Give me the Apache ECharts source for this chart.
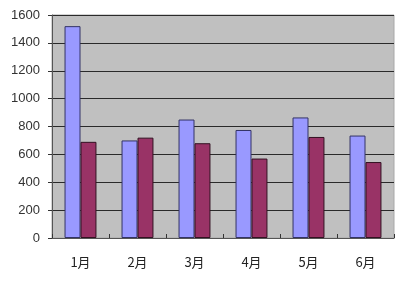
<!DOCTYPE html>
<html><head><meta charset="utf-8">
<script src="https://cdn.jsdelivr.net/npm/echarts@6/dist/echarts.min.js"></script>
<style>html,body{margin:0;padding:0;background:#fff}#c{width:400px;height:283px}</style>
</head><body><div id="c"></div>
<script>
const categories = ['1月','2月','3月','4月','5月','6月'];
const seriesA = [1520, 700, 850, 775, 865, 735];
const seriesB = [690, 720, 680, 570, 725, 545];
const yTicks = [0, 200, 400, 600, 800, 1000, 1200, 1400, 1600];

const chart = echarts.init(document.getElementById('c'));
chart.setOption({
  animation: false,
  grid: {left: 52, top: 15, right: 6, bottom: 45, show: true, backgroundColor: '#C0C0C0', borderColor: '#a8a8a8', borderWidth: 1},
  xAxis: {
    type: 'category', data: categories,
    axisLine: {lineStyle: {color: '#555', width: 1}},
    axisTick: {show: true, inside: true, length: 4, lineStyle: {color: '#333'}},
    axisLabel: {color: '#222', fontSize: 13, fontFamily: 'Noto Sans CJK JP', margin: 18}
  },
  yAxis: {
    type: 'value', min: 0, max: 1600, interval: 200,
    axisLine: {show: true, lineStyle: {color: '#555'}},
    axisTick: {show: true, length: 4, lineStyle: {color: '#333'}},
    axisLabel: {color: '#333', fontSize: 13, fontFamily: 'Liberation Sans', margin: 12,
      formatter: v => yTicks.includes(v) ? String(v) : ''},
    splitLine: {lineStyle: {color: '#2a2a2a', width: 1}}
  },
  series: [
    {type: 'bar', data: seriesA, barGap: '0%', barCategoryGap: '44%',
     itemStyle: {color: '#9999FF', borderColor: '#333366', borderWidth: 1}},
    {type: 'bar', data: seriesB,
     itemStyle: {color: '#993366', borderColor: '#331122', borderWidth: 1}}
  ]
});
</script></body></html>
